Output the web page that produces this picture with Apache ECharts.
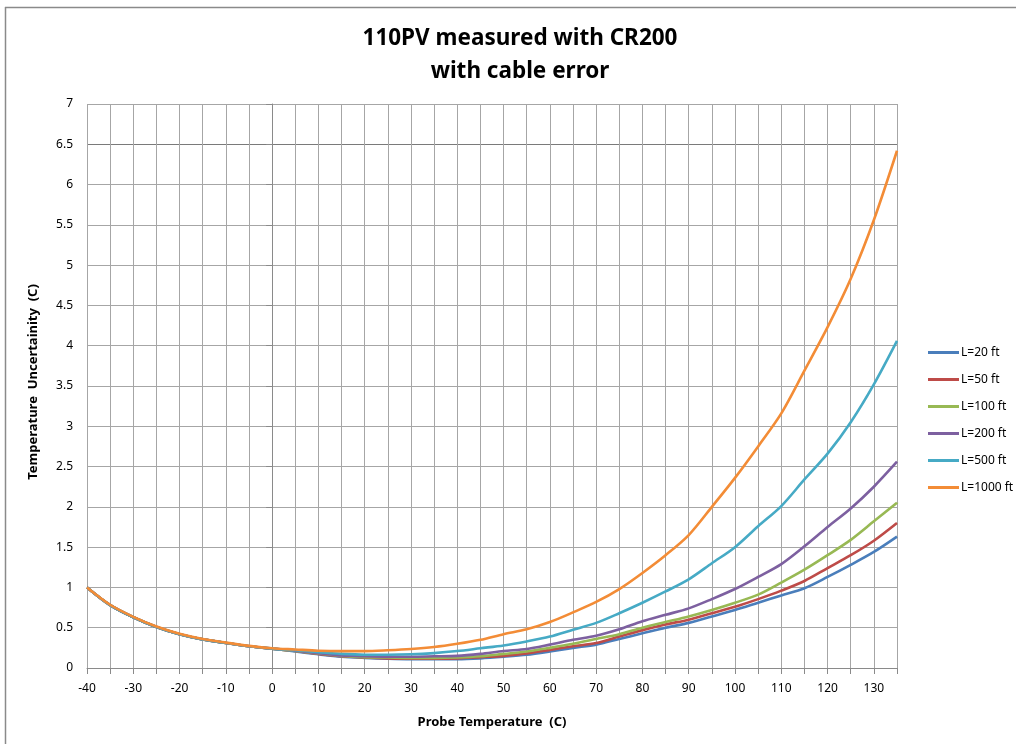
<!DOCTYPE html>
<html>
<head>
<meta charset="utf-8">
<script src="https://cdn.jsdelivr.net/npm/echarts@6/dist/echarts.min.js"></script>
<style>html,body{margin:0;padding:0;background:#fff}#c{width:1016px;height:744px}</style>
</head>
<body>
<div id="c"></div>
<script>
var temps = [-40,-35,-30,-25,-20,-15,-10,-5,0,5,10,15,20,25,30,35,40,45,50,55,60,65,70,75,80,85,90,95,100,105,110,115,120,125,130,135];
var seriesNames = ['L=20 ft','L=50 ft','L=100 ft','L=200 ft','L=500 ft','L=1000 ft'];
var L20 = [1.00,0.78,0.63,0.51,0.42,0.355,0.31,0.27,0.24,0.205,0.17,0.14,0.125,0.115,0.11,0.11,0.11,0.12,0.14,0.165,0.205,0.25,0.29,0.36,0.43,0.50,0.56,0.64,0.72,0.81,0.90,0.99,1.13,1.28,1.44,1.63];
var L50 = [1.00,0.78,0.63,0.51,0.42,0.355,0.31,0.27,0.24,0.21,0.175,0.145,0.13,0.12,0.115,0.115,0.12,0.135,0.15,0.18,0.225,0.27,0.31,0.39,0.47,0.54,0.60,0.68,0.76,0.855,0.96,1.08,1.24,1.40,1.58,1.80];
var L100 = [1.00,0.78,0.63,0.51,0.42,0.355,0.31,0.27,0.24,0.21,0.18,0.15,0.135,0.13,0.125,0.125,0.13,0.145,0.175,0.205,0.25,0.30,0.36,0.42,0.50,0.57,0.64,0.72,0.81,0.91,1.06,1.22,1.40,1.59,1.82,2.05];
var L200 = [1.00,0.78,0.63,0.51,0.42,0.355,0.31,0.27,0.24,0.215,0.185,0.155,0.145,0.14,0.14,0.145,0.15,0.175,0.21,0.235,0.29,0.35,0.40,0.48,0.58,0.66,0.74,0.855,0.98,1.13,1.29,1.51,1.75,1.98,2.25,2.56];
var L500 = [1.00,0.78,0.63,0.51,0.42,0.355,0.31,0.27,0.24,0.22,0.195,0.175,0.165,0.165,0.17,0.185,0.21,0.245,0.28,0.33,0.39,0.475,0.56,0.68,0.81,0.95,1.10,1.30,1.50,1.76,2.01,2.34,2.66,3.05,3.52,4.06];
var L1000 = [1.00,0.785,0.635,0.515,0.425,0.36,0.315,0.275,0.245,0.23,0.215,0.21,0.21,0.22,0.235,0.26,0.30,0.35,0.42,0.48,0.57,0.69,0.82,0.98,1.18,1.40,1.65,2.00,2.36,2.75,3.16,3.69,4.23,4.83,5.56,6.42];
var allValues = [L20,L50,L100,L200,L500,L1000];
var colors = ['#4a7ebb','#be4b48','#98b954','#7d60a0','#46aac5','#f38c36'];

var splitColors = [];
for (var i = 0; i <= 14; i++) splitColors.push(i === 13 ? '#7a7a7a' : '#a6a6a6');

var chart = echarts.init(document.getElementById('c'));
var series = seriesNames.map(function(n, k){
  return {
    name: n, type: 'line', showSymbol: false, symbol: 'none',
    data: temps.map(function(t, j){ return [t, allValues[k][j]]; }),
    lineStyle: {width: 2.6, color: colors[k]},
    itemStyle: {color: colors[k]},
    smooth: 0.3
  };
});
chart.setOption({
  animation: false,
  textStyle: {fontFamily: 'Noto Sans'},
  title: {
    text: '110PV measured with CR200\nwith cable error',
    left: 515, textAlign: 'center', top: 17,
    textStyle: {fontFamily: 'Noto Sans', fontSize: 22.5, fontWeight: 'bold', color: '#000', lineHeight: 33}
  },
  legend: {
    orient: 'vertical', left: 923, top: 340,
    itemWidth: 31, itemHeight: 3, itemGap: 12, icon: 'rect',
    textStyle: {fontFamily: 'Noto Sans', fontSize: 12, color: '#000', padding: [0,0,0,-3], lineHeight: 15},
    data: seriesNames
  },
  grid: {left: 87, right: 119, top: 104, bottom: 76, containLabel: false},
  xAxis: {
    type: 'value', min: -40, max: 135, interval: 5,
    name: 'Probe Temperature  (C)', nameLocation: 'middle', nameGap: 48,
    nameTextStyle: {fontFamily: 'Noto Sans', fontSize: 13, fontWeight: 'bold', color: '#000'},
    axisLine: {show: true, lineStyle: {color: '#8a8a8a', width: 1}},
    axisTick: {show: true, length: 6, lineStyle: {color: '#8a8a8a'}},
    axisLabel: {fontSize: 12, color: '#000', margin: 15, formatter: function(v){ return v % 10 === 0 ? String(v) : ''; }},
    splitLine: {show: true, lineStyle: {color: '#a6a6a6', width: 1}}
  },
  yAxis: {
    type: 'value', min: 0, max: 7, interval: 0.5,
    name: 'Temperature  Uncertainity  (C)', nameLocation: 'middle', nameGap: 47, nameRotate: 90,
    nameTextStyle: {fontFamily: 'Noto Sans', fontSize: 13, fontWeight: 'bold', color: '#000', padding: [0,0,0,8]},
    axisLine: {show: true, lineStyle: {color: '#8a8a8a', width: 1}},
    axisTick: {show: true, length: 6, lineStyle: {color: '#8a8a8a'}},
    axisLabel: {fontSize: 12, color: '#000', margin: 14},
    splitLine: {show: true, lineStyle: {color: splitColors, width: 1}}
  },
  graphic: [
    {type: 'line', shape: {x1: 5, y1: 7.5, x2: 1016, y2: 7.5}, style: {stroke: '#8a8a8a', lineWidth: 1.5}, silent: true},
    {type: 'line', shape: {x1: 5.5, y1: 7, x2: 5.5, y2: 744}, style: {stroke: '#8a8a8a', lineWidth: 1.5}, silent: true}
  ],
  series: series
});
</script>
</body>
</html>
